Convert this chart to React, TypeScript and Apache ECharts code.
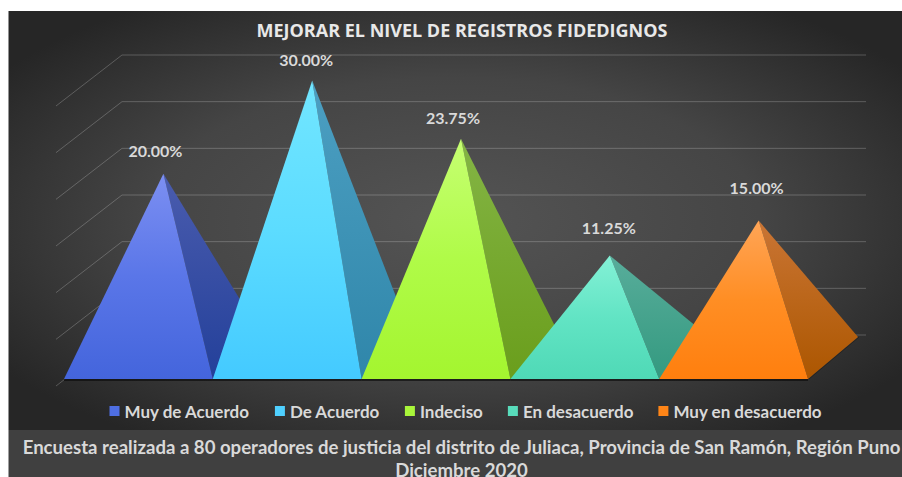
import React, { useEffect, useRef } from "react";
import * as echarts from "echarts";

const chartTitle = "MEJORAR EL NIVEL DE REGISTROS FIDEDIGNOS";
const captionText =
  "Encuesta realizada a 80 operadores de justicia del distrito de Juliaca, Provincia de San Ramón, Región Puno\nDiciembre 2020";
const categories = ["Muy de Acuerdo", "De Acuerdo", "Indeciso", "En desacuerdo", "Muy en desacuerdo"];
const percentages = [20.0, 30.0, 23.75, 11.25, 15.0];
const wallTicks = [0, 5, 10, 15, 20, 25, 30];

const frontTop = ["#7c8ff2", "#72e6ff", "#c6ff72", "#84f1d6", "#ffa557"];
const frontMid = ["#5a76e8", "#5cdcff", "#b0fb48", "#62e4c4", "#ff8e24"];
const frontBottom = ["#4465dc", "#44caff", "#a4f52f", "#4fd9b6", "#ff7f0e"];
const sideTop = ["#4a5cae", "#4c9fc2", "#84b545", "#58ad9b", "#ca7535"];
const sideMid = ["#374ea4", "#3e93b6", "#77a930", "#46a38d", "#bb661a"];
const sideBottom = ["#23409a", "#2f86aa", "#6a9e1c", "#339a80", "#ac5600"];
const legendColors = ["#4e6ee2", "#4fd0ff", "#a9f63a", "#58dcbb", "#ff8517"];
const labelOffsets: [number, number][] = [[-8, -23], [-6, -21], [-8, -21], [-1, -28], [-2, -33]];

const DEPTH_X = 50;
const DEPTH_Y = 42;
const APEX_RISE = 18.5;
const FONT = "Lato, Carlito, sans-serif";

const vGrad = (a: string, m: string, b: string) =>
  new echarts.graphic.LinearGradient(0, 0, 0, 1, [
    { offset: 0, color: a },
    { offset: 0.5, color: m },
    { offset: 1, color: b },
  ]);

function pyramidSeries(idx: number) {
  return {
    type: "custom",
    name: categories[idx],
    coordinateSystem: "cartesian2d",
    clip: false,
    silent: true,
    z: 3 + idx,
    itemStyle: { color: legendColors[idx] },
    encode: { x: 0, y: 1 },
    data: [[idx, percentages[idx]]],
    renderItem: (_p: any, api: any) => {
      const cat = api.value(0);
      const val = api.value(1);
      const base = api.coord([cat, 0]);
      const top = api.coord([cat, val]);
      const half = api.size([1, 0])[0] / 2;
      const fl = [base[0] - half, base[1]];
      const fr = [base[0] + half, base[1]];
      const br = [fr[0] + DEPTH_X, fr[1] - DEPTH_Y];
      const apex = [top[0] + DEPTH_X / 2, top[1] - APEX_RISE];
      const off = labelOffsets[idx];
      return {
        type: "group",
        children: [
          {
            type: "line",
            shape: { x1: fl[0], y1: fl[1] + 1, x2: fr[0], y2: fr[1] + 1 },
            style: { stroke: "rgba(10,10,10,0.65)", lineWidth: 2 },
          },
          {
            type: "line",
            shape: { x1: fr[0] + 1, y1: fr[1], x2: br[0] + 1, y2: br[1] },
            style: { stroke: "rgba(10,10,10,0.3)", lineWidth: 1 },
          },
          {
            type: "polygon",
            shape: { points: [fr, br, apex] },
            style: { fill: vGrad(sideTop[idx], sideMid[idx], sideBottom[idx]) },
          },
          {
            type: "polygon",
            shape: { points: [fl, fr, apex] },
            style: { fill: vGrad(frontTop[idx], frontMid[idx], frontBottom[idx]) },
          },
          {
            type: "text",
            x: apex[0] + off[0],
            y: apex[1] + off[1],
            z2: 50,
            style: {
              text: val.toFixed(2) + "%",
              fill: "#d9d9d9",
              font: `bold 16px ${FONT}`,
              align: "center",
              verticalAlign: "middle",
            },
          },
        ],
      };
    },
  };
}

const wallSeries = {
  type: "custom",
  name: "wall",
  coordinateSystem: "cartesian2d",
  clip: false,
  silent: true,
  z: 2,
  encode: { x: 0, y: 1 },
  data: wallTicks.map((t) => [0, t]),
  renderItem: (_p: any, api: any) => {
    const c = api.coord([0, api.value(1)]);
    const left = c[0] - api.size([1, 0])[0] / 2;
    const y = c[1];
    return {
      type: "polyline",
      shape: { points: [[left - 8, y + 7], [left + 58, y - 44], [left + 802, y - 44]] },
      style: { fill: "none", stroke: "rgba(255,255,255,0.22)", lineWidth: 1 },
    };
  },
};

export default function App() {
  const ref = useRef<HTMLDivElement>(null);
  useEffect(() => {
    const chart = echarts.init(ref.current!, undefined, { renderer: "svg" });
    chart.setOption({
      animation: false,
      graphic: [
        {
          type: "rect",
          z: 0,
          shape: { x: 8.5, y: 11, width: 893.5, height: 419 },
          style: {
            fill: new echarts.graphic.RadialGradient(0.5, 0.5, 0.62, [
              { offset: 0, color: "#545454" },
              { offset: 0.55, color: "#454545" },
              { offset: 1, color: "#262626" },
            ]),
          },
        },
        {
          type: "rect",
          z: 0,
          shape: { x: 8.5, y: 430, width: 893.5, height: 47 },
          style: { fill: "#404040" },
        },
      ],
      title: [
        {
          text: chartTitle,
          left: 457,
          top: 16,
          textAlign: "center",
          textStyle: { color: "#e8e8e8", fontFamily: "'Open Sans', sans-serif", fontWeight: "bold", fontSize: 18 },
        },
        {
          text: captionText,
          left: 456.5,
          top: 430,
          textAlign: "center",
          textStyle: { color: "#d9d9d9", fontFamily: FONT, fontWeight: "bold", fontSize: 18.6, lineHeight: 23 },
        },
      ],
      legend: {
        data: categories,
        left: 104.5,
        top: 397.5,
        icon: "rect",
        itemWidth: 10,
        itemHeight: 10,
        itemGap: 25,
        textStyle: { color: "#d9d9d9", fontFamily: FONT, fontWeight: "bold", fontSize: 17 },
      },
      grid: { left: 64, width: 744, top: 99, height: 280 },
      xAxis: { type: "category", data: categories, show: false },
      yAxis: { type: "value", min: 0, max: 30, interval: 5, show: false },
      series: [wallSeries, ...categories.map((_, i) => pyramidSeries(i))],
    });
    return () => chart.dispose();
  }, []);
  return (
    <div
      ref={ref}
      style={{ position: "fixed", left: 0, top: 0, width: 902, height: 477, background: "#ffffff" }}
    />
  );
}
